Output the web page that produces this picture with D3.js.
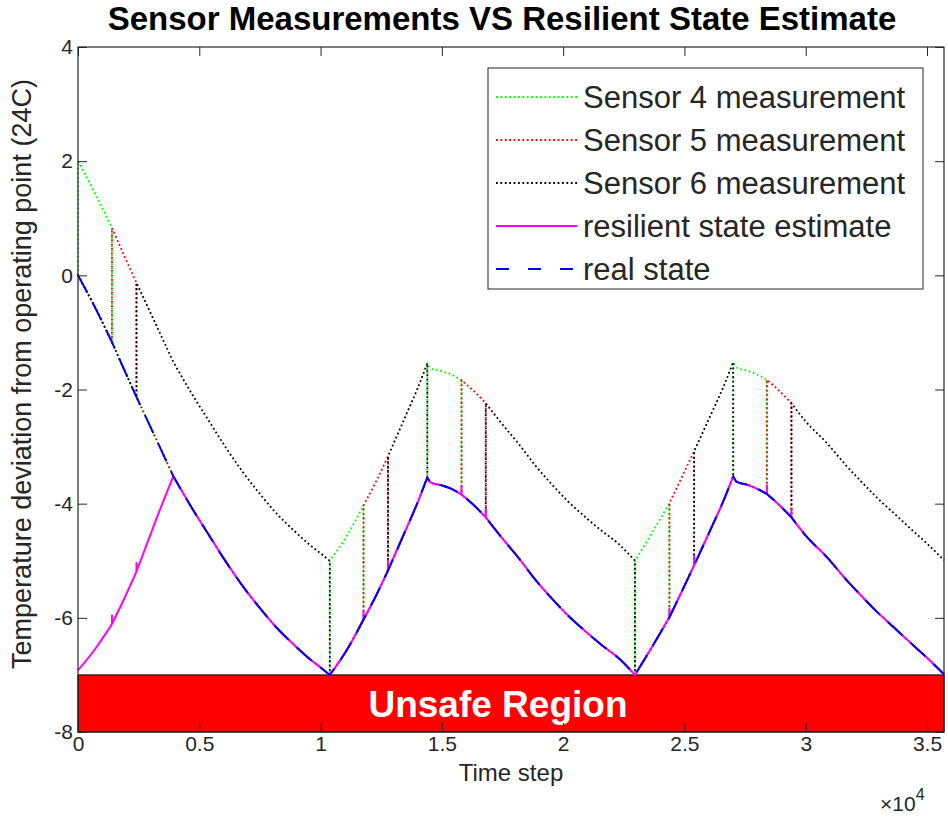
<!DOCTYPE html>
<html>
<head>
<meta charset="utf-8">
<script src="https://cdn.jsdelivr.net/npm/d3@7"></script>
<style>
	body { margin: 0; background: #fff; }
	svg { font-family: "Liberation Sans", Arial, sans-serif; }
</style>
</head>
<body>
<svg id="chart" width="948" height="820"></svg>
<script>
// time grid, repeated steps mark the jumps when the attacked sensor changes
const timeStep = [
	0, 0, 700, 1400, 1400, 1400, 1900, 2410, 2410, 2410, 3200, 3930, 3930, 4700, 5440, 6100, 6800, 7500, 8180, 8900, 9550, 10000, 10380, 10380,
	11100, 11770, 11770, 11770, 12300, 12780, 12780, 12780, 13500, 14000, 14400, 14400,
	14550, 15000, 15400, 15810, 15810, 15810, 16300, 16810, 16810, 16810, 17400, 18160, 18850, 19530, 20200, 20900, 21600, 22270, 22960, 22960,
	23650, 24380, 24380, 24380, 24900, 25400, 25400, 25400, 26100, 26600, 27010, 27010,
	27160, 27600, 28000, 28400, 28400, 28400, 28900, 29410, 29410, 29410, 30000, 30900, 31600, 32260, 32950, 33640, 34300, 35000, 35700
];

const realState = [
	0, 0, -0.56, -1.17, -1.17, -1.17, -1.65, -2.13, -2.13, -2.13, -2.85, -3.52, -3.52, -4.08, -4.58, -5.02, -5.45, -5.83, -6.17, -6.47, -6.72, -6.87, -7, -7,
	-6.55, -6.03, -6.03, -6.03, -5.6, -5.17, -5.17, -5.17, -4.47, -3.98, -3.54, -3.54,
	-3.63, -3.68, -3.74, -3.84, -3.84, -3.84, -4.02, -4.24, -4.24, -4.24, -4.56, -4.95, -5.33, -5.66, -5.96, -6.23, -6.48, -6.7, -7, -7,
	-6.52, -5.99, -5.99, -5.99, -5.53, -5.08, -5.08, -5.08, -4.43, -3.96, -3.52, -3.52,
	-3.62, -3.67, -3.74, -3.83, -3.83, -3.83, -4.02, -4.24, -4.24, -4.24, -4.56, -4.95, -5.3, -5.6, -5.9, -6.17, -6.43, -6.7, -6.99
];

const estimate = [
	-6.92, -6.92, -6.55, -6.11, -5.96, -6.11, -5.67, -5.19, -5.04, -5.19, -4.3, -3.52, -3.52, -4.08, -4.58, -5.02, -5.45, -5.83, -6.17, -6.47, -6.72, -6.87, -7, -7,
	-6.55, -6.03, -5.88, -6.03, -5.6, -5.17, -5.02, -5.17, -4.47, -3.98, -3.54, -3.54,
	-3.63, -3.68, -3.74, -3.84, -3.69, -3.84, -4.02, -4.24, -4.09, -4.24, -4.56, -4.95, -5.33, -5.66, -5.96, -6.23, -6.48, -6.7, -7, -7,
	-6.52, -5.99, -5.84, -5.99, -5.53, -5.08, -4.93, -5.08, -4.43, -3.96, -3.52, -3.52,
	-3.62, -3.67, -3.74, -3.83, -3.68, -3.83, -4.02, -4.24, -4.09, -4.24, -4.56, -4.95, -5.3, -5.6, -5.9, -6.17, -6.43, -6.7, -6.99
];

const sensor4 = [
	0, 2, 1.44, 0.83, -1.17, -1.17, -1.65, -2.13, -2.13, -2.13, -2.85, -3.52, -3.52, -4.08, -4.58, -5.02, -5.45, -5.83, -6.17, -6.47, -6.72, -6.87, -7, -5,
	-4.55, -4.03, -6.03, -6.03, -5.6, -5.17, -5.17, -5.17, -4.47, -3.98, -3.54, -1.54,
	-1.63, -1.68, -1.74, -1.84, -3.84, -3.84, -4.02, -4.24, -4.24, -4.24, -4.56, -4.95, -5.33, -5.66, -5.96, -6.23, -6.48, -6.7, -7, -5,
	-4.52, -3.99, -5.99, -5.99, -5.53, -5.08, -5.08, -5.08, -4.43, -3.96, -3.52, -1.52,
	-1.62, -1.67, -1.74, -1.83, -3.83, -3.83, -4.02, -4.24, -4.24, -4.24, -4.56, -4.95, -5.3, -5.6, -5.9, -6.17, -6.43, -6.7, -6.99
];

const sensor5 = [
	0, 0, -0.56, -1.17, 0.83, 0.83, 0.35, -0.13, -2.13, -2.13, -2.85, -3.52, -3.52, -4.08, -4.58, -5.02, -5.45, -5.83, -6.17, -6.47, -6.72, -6.87, -7, -7,
	-6.55, -6.03, -4.03, -4.03, -3.6, -3.17, -5.17, -5.17, -4.47, -3.98, -3.54, -3.54,
	-3.63, -3.68, -3.74, -3.84, -1.84, -1.84, -2.02, -2.24, -4.24, -4.24, -4.56, -4.95, -5.33, -5.66, -5.96, -6.23, -6.48, -6.7, -7, -7,
	-6.52, -5.99, -3.99, -3.99, -3.53, -3.08, -5.08, -5.08, -4.43, -3.96, -3.52, -3.52,
	-3.62, -3.67, -3.74, -3.83, -1.83, -1.83, -2.02, -2.24, -4.24, -4.24, -4.56, -4.95, -5.3, -5.6, -5.9, -6.17, -6.43, -6.7, -6.99
];

const sensor6 = [
	0, 0, -0.56, -1.17, -1.17, -1.17, -1.65, -2.13, -0.13, -0.13, -0.85, -1.52, -1.52, -2.08, -2.58, -3.02, -3.45, -3.83, -4.17, -4.47, -4.72, -4.87, -5, -7,
	-6.55, -6.03, -6.03, -6.03, -5.6, -5.17, -3.17, -3.17, -2.47, -1.98, -1.54, -3.54,
	-3.63, -3.68, -3.74, -3.84, -3.84, -3.84, -4.02, -4.24, -2.24, -2.24, -2.56, -2.95, -3.33, -3.66, -3.96, -4.23, -4.48, -4.7, -5, -7,
	-6.52, -5.99, -5.99, -5.99, -5.53, -5.08, -3.08, -3.08, -2.43, -1.96, -1.52, -3.52,
	-3.62, -3.67, -3.74, -3.83, -3.83, -3.83, -4.02, -4.24, -2.24, -2.24, -2.56, -2.95, -3.3, -3.6, -3.9, -4.17, -4.43, -4.7, -4.99
];

const xTicks = [0, 5000, 10000, 15000, 20000, 25000, 30000, 35000];
const yTicks = [-8, -6, -4, -2, 0, 2, 4];
const unsafeBand = [-8, -7];

const legendItems = [
	{ label: "Sensor 4 measurement", color: "#00ff00", dash: "1.8,2.6", width: 1.8 },
	{ label: "Sensor 5 measurement", color: "#ff0000", dash: "1.8,2.6", width: 1.8 },
	{ label: "Sensor 6 measurement", color: "#000000", dash: "1.8,2.6", width: 1.8 },
	{ label: "resilient state estimate", color: "#ff00ff", dash: null, width: 2 },
	{ label: "real state", color: "#0000ff", dash: "13,19", width: 2 }
];

const svg = d3.select("#chart");
const plotLeft = 78, plotRight = 944, plotTop = 47, plotBottom = 732;
const axisColor = "#262626";

var x = d3.scaleLinear().domain([0, 35700]).range([plotLeft, plotRight]);
var y = d3.scaleLinear().domain([-8, 4]).range([plotBottom, plotTop]);

// unsafe region band
svg.append("rect")
	.attr("x", plotLeft)
	.attr("y", y(unsafeBand[1]))
	.attr("width", plotRight - plotLeft)
	.attr("height", y(unsafeBand[0]) - y(unsafeBand[1]))
	.attr("fill", "#ff0000")
	.attr("stroke", "#000")
	.attr("stroke-width", 1);

svg.append("text")
	.attr("x", 498)
	.attr("y", (y(-7) + y(-8)) / 2)
	.attr("dy", "0.36em")
	.attr("text-anchor", "middle")
	.attr("fill", "#fff")
	.attr("font-weight", "bold")
	.attr("font-size", 37)
	.text("Unsafe Region");

var line = d3.line()
	.x(d => x(d[0]))
	.y(d => y(d[1]))
	.curve(d3.curveMonotoneX);

// smooth runs between repeated steps, joined by straight vertical jumps
const tracePath = function (vals) {
	var runs = [];
	var cur = [];
	timeStep.forEach((t, i) => {
		if (cur.length && t === cur[cur.length - 1][0]) {
			runs.push(cur);
			cur = [];
		}
		cur.push([t, vals[i]]);
	});
	runs.push(cur);
	return runs.map((r, k) => {
		var d = r.length > 1 ? line(r) : `M${x(r[0][0])},${y(r[0][1])}`;
		return k ? "L" + d.slice(1) : d;
	}).join("");
};

const series = [
	{ vals: sensor4, item: legendItems[0] },
	{ vals: sensor5, item: legendItems[1] },
	{ vals: sensor6, item: legendItems[2] },
	{ vals: estimate, item: legendItems[3] },
	{ vals: realState, item: Object.assign({}, legendItems[4], { dash: "20,11" }) }
];

series.forEach(s => {
	svg.append("path")
		.attr("d", tracePath(s.vals))
		.attr("fill", "none")
		.attr("stroke", s.item.color)
		.attr("stroke-width", s.item.width)
		.attr("stroke-dasharray", s.item.dash)
		.attr("stroke-linejoin", "round");
});

// axes, ticks pointing inward on all four sides
var gx = svg.append("g")
	.attr("transform", `translate(0,${plotBottom})`)
	.call(d3.axisBottom(x).tickValues(xTicks).tickSize(-9).tickPadding(4).tickFormat(d => String(d / 1e4)));
var gxTop = svg.append("g")
	.attr("transform", `translate(0,${plotTop})`)
	.call(d3.axisTop(x).tickValues(xTicks).tickSize(-9).tickFormat(""));
var gy = svg.append("g")
	.attr("transform", `translate(${plotLeft},0)`)
	.call(d3.axisLeft(y).tickValues(yTicks).tickSize(-9).tickPadding(5).tickFormat(d => String(d)));
var gyRight = svg.append("g")
	.attr("transform", `translate(${plotRight},0)`)
	.call(d3.axisRight(y).tickValues(yTicks).tickSize(-9).tickFormat(""));

[gx, gxTop, gy, gyRight].forEach(g => {
	g.select(".domain").remove();
	g.selectAll(".tick line").attr("stroke", axisColor).attr("stroke-width", 1);
	g.selectAll(".tick text")
		.attr("fill", axisColor)
		.attr("font-size", 21)
		.attr("font-family", "Liberation Sans, Arial, sans-serif");
});

svg.append("rect")
	.attr("x", plotLeft)
	.attr("y", plotTop)
	.attr("width", plotRight - plotLeft)
	.attr("height", plotBottom - plotTop)
	.attr("fill", "none")
	.attr("stroke", axisColor)
	.attr("stroke-width", 1.2);

// exponent note
var expo = svg.append("text")
	.attr("x", 880)
	.attr("y", 811)
	.attr("fill", axisColor)
	.attr("font-size", 21);
expo.append("tspan").text("\u00d710");
expo.append("tspan").attr("dy", -11).attr("font-size", 16).text("4");

// labels and title
svg.append("text")
	.attr("x", (plotLeft + plotRight) / 2)
	.attr("y", 781)
	.attr("text-anchor", "middle")
	.attr("fill", axisColor)
	.attr("font-size", 24)
	.text("Time step");

svg.append("text")
	.attr("transform", `translate(31,374) rotate(-90)`)
	.attr("text-anchor", "middle")
	.attr("fill", axisColor)
	.attr("font-size", 27)
	.text("Temperature deviation from operating point (24C)");

svg.append("text")
	.attr("x", 502)
	.attr("y", 30)
	.attr("text-anchor", "middle")
	.attr("fill", "#000")
	.attr("font-weight", "bold")
	.attr("font-size", 33)
	.text("Sensor Measurements VS Resilient State Estimate");

// legend
var lg = svg.append("g");
lg.append("rect")
	.attr("x", 488).attr("y", 68)
	.attr("width", 435).attr("height", 221)
	.attr("fill", "#fff")
	.attr("stroke", axisColor)
	.attr("stroke-width", 1);

legendItems.forEach((item, i) => {
	var cy = 97 + 43 * i;
	lg.append("line")
		.attr("x1", 496).attr("x2", 577)
		.attr("y1", cy).attr("y2", cy)
		.attr("stroke", item.color)
		.attr("stroke-width", item.width)
		.attr("stroke-dasharray", item.dash);
	lg.append("text")
		.attr("x", 583)
		.attr("y", cy)
		.attr("dy", "0.36em")
		.attr("fill", axisColor)
		.attr("font-size", 31)
		.text(item.label);
});
</script>
</body>
</html>
